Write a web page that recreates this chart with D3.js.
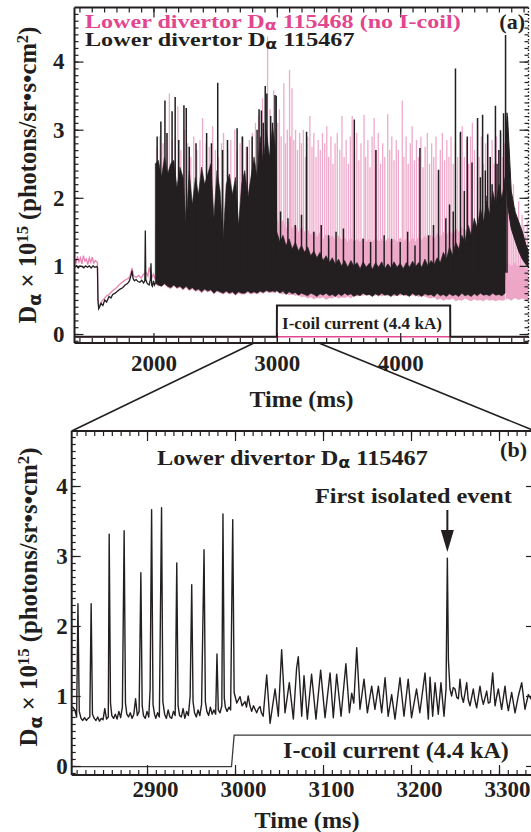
<!DOCTYPE html>
<html><head><meta charset="utf-8">
<script src="https://cdn.jsdelivr.net/npm/d3@7"></script>
<style>body{margin:0;background:#fff}svg{display:block}</style>
</head><body>
<svg id="chart" width="531" height="832"></svg>
<script>
// ---------------- DATA ----------------
// Panel (a): axis settings and tick labels
const aXDomain = [1360, 5040];
const aYDomain = [-0.132, 4.794];
const aXTicks = [2000, 3000, 4000];
const aYTicks = [0, 1, 2, 3, 4];
// Panel (b)
const bXDomain = [2814.4, 3340.9];
const bYDomain = [-0.129, 4.786];
const bXTicks = [2900, 3000, 3100, 3200, 3300];
const bYTicks = [0, 1, 2, 3, 4];

// (a) black shot 115467, before the ELMy phase
const preT = [1360,1375,1390,1405,1420,1435,1450,1465,1480,1495,1510,1525,1540,1546,1550,1556,1565,1575,1590,1605,1620,1640,1655,1670,1690,1710,1730,1750,1770,1790,1805,1818,1826,1834,1845,1860,1875,1890,1905,1920,1930,1934,1938,1950,1965,1975,1980,1985,1992,2000,2008,2015];
const preV = [0.98,1.0,0.97,1.0,0.99,0.97,1.0,0.98,1.0,0.97,1.0,0.98,0.99,0.98,0.5,0.37,0.4,0.45,0.42,0.5,0.47,0.55,0.53,0.58,0.6,0.63,0.66,0.68,0.72,0.74,0.78,0.86,0.93,0.82,0.78,0.8,0.77,0.76,0.79,0.75,0.78,1.52,0.8,0.74,0.72,0.8,1.04,0.72,0.7,0.78,0.72,0.75];
// (a) pink shot 115468, before the ELMy phase
const pinkPreT = [1360,1372,1384,1396,1408,1420,1432,1444,1456,1468,1480,1492,1504,1516,1528,1540,1546,1550,1556,1565,1580,1600,1620,1640,1660,1680,1700,1720,1740,1760,1780,1800,1815,1826,1840,1860,1880,1900,1920,1940,1955,1965,1975,1985,2000,2015];
const pinkPreV = [1.1,1.04,1.14,1.06,1.12,1.03,1.15,1.07,1.1,1.02,1.12,1.05,1.13,1.04,1.08,1.06,1.05,0.55,0.4,0.43,0.48,0.52,0.56,0.58,0.62,0.65,0.68,0.72,0.75,0.78,0.8,0.82,0.88,0.97,0.85,0.83,0.86,0.82,0.88,0.9,0.85,0.98,0.9,0.82,0.88,0.8];

// (a) dense ELMy phase: envelopes (25 ms samples)
const denseT = [2015,2040,2065,2090,2115,2140,2165,2190,2215,2240,2265,2290,2315,2340,2365,2390,2415,2440,2465,2490,2515,2540,2565,2590,2615,2640,2665,2690,2715,2740,2765,2790,2815,2840,2865,2890,2915,2940,2965,2990,
  3000,3025,3050,3075,3100,3125,3150,3175,3200,3225,3250,3275,3300,3325,3350,3375,3400,3425,3450,3475,3500,3525,3550,3575,3600,3625,3650,3675,3700,3725,3750,3775,3800,3825,3850,3875,3900,3925,3950,3975,
  4000,4025,4050,4075,4100,4125,4150,4175,4200,4225,4250,4275,4300,4325,4350,4375,4400,4425,4450,4475,4500,4525,4550,4575,4600,4625,4650,4675,4700,4725,4750,4775,4800,4825,4850];
const blackHi = [2.5,2.55,2.3,2.6,2.35,2.5,2.55,2.15,2.45,2.3,1.6,2.4,1.9,2.3,2.05,2.45,2.2,2.35,2.5,1.7,2.4,2.1,1.4,2.2,2.35,2.05,2.3,1.6,2.2,2.4,2.0,2.3,2.6,2.3,2.9,2.5,3.0,2.6,3.05,2.7,
  1.5,1.35,1.45,1.3,1.4,1.25,1.35,1.22,1.3,1.2,1.28,1.15,1.22,1.12,1.2,1.08,1.15,1.05,1.12,1.02,1.1,1.0,1.08,0.98,1.08,1.0,1.05,0.96,1.06,0.98,1.04,0.95,1.05,0.98,1.06,0.96,1.03,0.97,1.06,0.98,
  1.04,0.96,1.05,0.98,1.07,0.99,1.05,0.98,1.1,1.0,1.08,1.02,1.12,1.05,1.2,1.1,1.28,1.15,1.35,1.25,1.45,1.35,1.6,1.45,1.7,1.55,1.85,1.65,1.95,1.75,2.1,1.9,2.2,2.0,2.3];
const blackLo = [0.75,0.72,0.7,0.74,0.7,0.68,0.72,0.68,0.7,0.66,0.7,0.65,0.68,0.64,0.66,0.62,0.66,0.63,0.65,0.6,0.64,0.62,0.6,0.63,0.6,0.62,0.58,0.62,0.6,0.6,0.63,0.6,0.62,0.6,0.63,0.61,0.64,0.62,0.63,0.62,
  0.64,0.6,0.63,0.58,0.62,0.59,0.61,0.57,0.6,0.58,0.56,0.6,0.58,0.55,0.59,0.57,0.6,0.56,0.58,0.55,0.59,0.56,0.6,0.57,0.59,0.55,0.58,0.56,0.6,0.57,0.58,0.55,0.59,0.56,0.6,0.57,0.58,0.55,0.59,0.56,
  0.6,0.57,0.58,0.55,0.6,0.56,0.58,0.55,0.59,0.57,0.58,0.55,0.6,0.56,0.58,0.55,0.59,0.56,0.58,0.55,0.6,0.56,0.58,0.55,0.59,0.56,0.6,0.57,0.58,0.56,0.6,0.57,0.58,0.56,0.6];
const pinkLo = [0.72,0.7,0.7,0.72,0.68,0.66,0.7,0.66,0.68,0.64,0.68,0.63,0.66,0.62,0.64,0.6,0.64,0.61,0.63,0.58,0.62,0.6,0.58,0.61,0.58,0.6,0.56,0.6,0.58,0.58,0.61,0.58,0.6,0.58,0.61,0.59,0.62,0.6,0.61,0.6,
  0.62,0.6,0.58,0.6,0.57,0.58,0.56,0.57,0.54,0.55,0.52,0.54,0.51,0.53,0.52,0.54,0.5,0.53,0.52,0.55,0.52,0.54,0.53,0.55,0.52,0.56,0.55,0.57,0.56,0.58,0.57,0.58,0.56,0.58,0.55,0.57,0.56,0.58,0.55,0.57,
  0.56,0.58,0.55,0.57,0.56,0.58,0.54,0.56,0.55,0.53,0.52,0.54,0.5,0.52,0.49,0.51,0.5,0.52,0.48,0.5,0.49,0.52,0.5,0.48,0.51,0.49,0.5,0.48,0.51,0.49,0.5,0.48,0.5,0.49,0.5];
const pinkBand = [1.6,1.6,1.6,1.6,1.6,1.6,1.6,1.6,1.6,1.6,1.6,1.6,1.6,1.6,1.6,1.6,1.6,1.6,1.6,1.6,1.6,1.6,1.6,1.6,1.6,1.6,1.6,1.6,1.6,1.6,1.6,1.6,1.6,1.6,1.6,1.6,1.6,1.6,1.6,1.6,
  1.7,1.6,1.68,1.55,1.65,1.55,1.6,1.5,1.58,1.5,1.55,1.45,1.52,1.42,1.5,1.4,1.48,1.4,1.45,1.38,1.45,1.38,1.42,1.35,1.42,1.36,1.4,1.35,1.42,1.36,1.4,1.35,1.42,1.36,1.4,1.34,1.42,1.36,1.4,1.35,
  1.42,1.36,1.4,1.35,1.42,1.36,1.44,1.38,1.45,1.4,1.46,1.4,1.48,1.42,1.5,1.45,1.52,1.46,1.55,1.5,1.58,1.52,1.6,1.55,1.65,1.58,1.7,1.62,1.75,1.68,1.8,1.72,1.85,1.78,1.9];

// (a) tail after the last big event
const tailT = [4855,4870,4900,4930,4960,4990,5020,5045];
const blackTailLo = [2.4,1.9,1.55,1.38,1.22,1.1,1.02,0.98];
const blackTailHi = [3.0,3.2,2.1,1.8,1.65,1.5,1.3,1.2];
const pinkTailLo = [0.5,0.52,0.49,0.53,0.5,0.52,0.5,0.5];
const pinkTailHi = [1.1,1.05,1.0,1.05,0.98,1.02,0.95,1.0];

// (a) individual spikes
const blackSpikeT = [2030,2060,2093,2110,2151,2176,2205,2247,2266,2290,2345,2431,2470,2521,2560,2600,2678,2720,2760,2800,2840,2856,2875,2890,2906,2919,2950,2965,2985,2995,
  3030,3090,3150,3200,3241,3300,3360,3420,3480,3540,3628,3700,3760,3803,3870,3930,4000,4060,4120,4160,4230,4270,4311,4370,4400,4430,4448,4489,4520,4544,4582,4627,4650,4668,4690,4704,4709,4730,4745,4772,4785,4800,4813,4838,4854,4866];
const blackSpikeV = [2.9,3.12,3.43,2.95,3.27,3.48,2.85,3.36,3.32,2.75,2.8,2.95,2.8,3.69,2.7,2.85,3.02,2.9,2.75,2.9,3.0,3.3,3.28,3.1,3.64,3.53,3.2,3.1,3.51,3.5,
  1.8,1.7,1.6,1.75,2.97,1.5,1.6,1.45,1.5,1.55,3.15,1.4,1.35,2.7,1.45,1.4,1.35,1.5,1.3,2.73,1.45,1.6,2.41,1.7,1.9,1.8,3.9,2.97,2.1,2.9,2.52,3.17,2.3,3.22,2.4,2.03,2.93,2.6,2.2,3.35,2.5,2.7,2.99,3.24,4.39,3.25];
const pinkSpikeT = [2027,2052,2078,2102,2129,2152,2178,2198,2222,2252,2277,2302,2327,2352,2377,2398,2427,2452,2480,2502,2527,2552,2568,2602,2627,2659,2677,2702,2727,2752,2777,2802,2827,2852,2884,2925,2945,2974,
  3008,3021,3035,3057,3070,3085,3103,3112,3123,3138,3152,3168,3185,3200,3215,3232,3250,3268,3285,3300,3318,3335,3352,3370,3388,3405,3420,3438,3455,3472,3490,3510,3528,3545,3562,3580,3596,3611,3630,3648,3665,3682,3707,3720,3738,3755,3772,3789,3805,3822,3840,3858,3875,3899,3915,3932,3950,3968,3985,4017,4030,4048,4065,4082,4097,4115,4132,4150,4168,4185,4202,4220,4238,4255,4272,4290,4308,4325,4342,4360,4378,4395,4412,4430,4448,4466,4485,4503,4520,4538,4555,4570,4585,4602,4627,4640,4658,4675,4692,4710,4728,4745,4762,4780,4798,4815,4832,4848,
  4862,4876,4890,4905,4918,4932,4946,4960,4974,4988,5002,5016,5030];
const pinkSpikeV = [2.75,2.9,2.8,2.95,3.53,2.85,2.9,3.34,2.7,3.0,2.8,2.6,2.9,2.7,2.85,3.17,2.8,2.75,3.05,2.7,2.6,2.8,2.95,2.7,2.85,3.0,2.7,2.8,2.9,2.75,2.85,2.95,3.1,3.2,3.46,4.37,3.3,3.58,
  3.1,3.3,2.9,3.68,2.8,3.0,3.88,2.9,3.61,2.85,3.0,2.7,2.95,2.8,3.0,2.6,2.9,3.2,2.75,2.95,2.6,2.85,2.7,2.95,2.8,3.05,2.6,2.9,2.5,2.8,2.95,2.7,3.2,2.6,2.85,2.5,2.9,3.2,2.7,2.95,2.55,2.8,3.22,2.6,2.85,2.45,2.9,3.17,2.7,2.95,2.5,2.8,2.6,3.23,2.7,2.9,2.55,2.85,2.7,3.43,2.6,2.9,2.5,2.8,3.05,2.55,2.85,2.6,2.9,2.45,2.75,2.95,2.5,2.8,2.6,2.9,2.4,2.7,2.95,2.55,2.85,2.6,2.9,2.5,2.8,2.6,2.95,3.05,2.6,2.85,2.5,2.9,3.1,2.7,3.15,2.6,2.9,2.5,2.8,2.95,2.6,2.85,2.5,2.9,2.7,2.95,2.6,2.8,
  2.3,1.9,2.1,1.75,2.2,1.85,1.6,1.95,1.55,1.75,1.6,1.45,1.65];

// (a) I-coil current traces
const aIcoilT = [1360, 3000, 3001, 4405, 4406, 5045];
const aIcoilV = [-0.04, -0.04, 0.42, 0.42, -0.04, -0.04];
const aPinkIcoilT = [1360, 5045];
const aPinkIcoilV = [-0.04, -0.04];

// (b) black shot 115467 zoom
const bT = [2815,2818,2820,2821.5,2823,2825,2827,2829,2831,2833,2835,2836.5,2838,2840,2842,2844,2846,2848,2850,2852,2854,2856,2857,2858.5,2860,2862,2864,2866,2868,2870,2872,2874,2875.5,2877,2879,2881,2883,2885,2887,2889,2891,2893,2894.5,2896,2898,2900,2902,2903.5,2905.2,2906.8,2908.5,2910,2912,2914,2916.5,2918,2920,2922,2924,2926,2928,2930,2932,2933.8,2935.3,2937,2939,2941,2943,2945,2947,2949,2950.8,2952.3,2954,2956,2958,2960,2962,2964.8,2966.3,2968,2970,2972,2974,2976,2978,2979.5,2981,2983,2985,2986.3,2987.8,2989,2991,2993,2995,2997.4,2999,
  3002,3005.7,3008,3011.4,3013,3015,3017,3018.9,3021,3024.6,3026.5,3028.4,3030,3032,3036,3039.8,3045.5,3049.2,3053,3056.8,3061.7,3066.3,3070,3071.9,3075.8,3078.4,3082.2,3087,3092,3097.3,3102.3,3108,3111.7,3115.5,3120.5,3126,3130,3132.6,3135,3138.3,3142,3146.6,3150.4,3155.3,3159,3162.9,3166.7,3170.5,3174,3178,3181.8,3187.5,3192,3196.8,3200.6,3206.3,3210,3215.9,3219.7,3221.6,3224.6,3227.3,3231,3234,3237.5,3239.8,3241.3,3242.5,3244.3,3246.2,3248,3250,3252,3253.8,3255.7,3257.5,3259.5,3261.5,3263.3,3265,3267,3270.8,3272.5,3274.6,3278.4,3280.3,3282.2,3286,3287.8,3289.8,3292.8,3295.5,3297.5,3299.2,3303,3306.8,3308.5,3310.6,3314.4,3318.2,3322,3325.8,3329.5,3333.3,3336.4,3338.5,3341];
const bV = [0.85,0.8,0.7,2.32,0.78,0.68,0.65,0.69,0.65,0.68,0.7,2.32,0.74,0.68,0.65,0.7,0.64,0.68,0.66,0.82,0.67,0.7,3.31,0.9,0.72,0.68,0.74,0.67,0.78,0.69,0.84,3.36,0.9,0.74,0.7,0.76,0.68,0.74,0.96,0.72,0.78,2.76,0.86,0.72,0.68,0.78,0.7,1.1,3.66,0.88,0.74,0.68,0.76,0.7,3.69,0.92,0.74,0.68,0.8,0.7,0.68,0.78,0.72,2.9,0.86,0.72,0.7,0.82,0.68,0.78,0.72,1.0,2.59,0.92,0.76,0.7,0.8,0.72,0.88,3.09,0.92,0.78,0.72,0.84,0.74,0.8,0.74,1.6,0.8,0.76,0.86,3.6,0.97,0.84,0.78,0.84,0.8,3.52,1.05,
  0.9,0.99,0.86,0.92,0.84,1.0,0.86,0.78,0.86,0.76,0.82,0.85,0.76,0.71,1.3,0.61,1.1,0.71,1.66,0.76,1.19,0.67,1.4,1.56,0.71,1.29,0.67,1.31,0.67,1.37,0.69,1.33,0.69,1.31,0.71,1.46,0.76,1.04,0.9,1.69,0.81,1.24,0.76,1.14,0.81,1.14,0.76,1.26,0.71,1.02,0.67,1.26,0.71,1.24,0.69,1.1,0.76,1.33,0.67,1.27,0.71,1.19,0.74,1.19,0.71,1.1,2.97,1.51,1.1,1.0,1.12,1.1,0.98,0.96,1.24,1.0,0.91,1.05,1.19,0.95,0.86,1.1,0.95,0.83,1.14,0.98,0.88,1.07,0.9,0.91,1.33,0.86,1.0,1.1,0.81,1.14,0.95,0.79,1.05,0.76,1.0,1.19,0.81,1.02,0.96,1.05,0.9];
// (b) I-coil current
const bIcoilT = [2814, 2996, 2999, 3342];
const bIcoilV = [-0.01, -0.01, 0.44, 0.44];

// ---------------- DRAWING ----------------
const SERIF = '"Liberation Serif","Times New Roman",Times,serif';
const BLACK = '#231f20', PINK = '#e2468f', PINK_LINE = '#eeaacb', PINK_BAND = '#eea6c6', PINK_PRE = '#e884b2';
const svg = d3.select('#chart');
const defs = svg.append('defs');

const A = {l: 74.5, r: 528.5, t: 7.5, b: 343};
const B = {l: 71.7, r: 535, t: 431, b: 775};

const xa = d3.scaleLinear().domain(aXDomain).range([A.l, A.r]);
const ya = d3.scaleLinear().domain(aYDomain).range([A.b, A.t]);
const xb = d3.scaleLinear().domain(bXDomain).range([B.l, B.r]);
const yb = d3.scaleLinear().domain(bYDomain).range([B.b, B.t]);

function clip(id, P) {
  defs.append('clipPath').attr('id', id).append('rect')
    .attr('x', P.l).attr('y', P.t).attr('width', P.r - P.l).attr('height', P.b - P.t);
}
clip('clipA', A); clip('clipB', B);

// ---------- panel (a) data ----------
const pa = svg.append('g').attr('clip-path', 'url(#clipA)');
const idx = arr => d3.range(arr.length);
const lineA = (T, V) => d3.line().x(i => xa(T[i])).y(i => ya(V[i]));
const areaA = (T, L, H) => d3.area().x(i => xa(T[i])).y0(i => ya(L[i])).y1(i => ya(H[i]));

// pink (shot 115468)
pa.append('path').datum(idx(pinkPreT)).attr('d', lineA(pinkPreT, pinkPreV))
  .attr('fill', 'none').attr('stroke', PINK_PRE).attr('stroke-width', 1.3);
pa.append('path').datum(idx(denseT)).attr('d', areaA(denseT, pinkLo, pinkBand))
  .attr('fill', PINK_BAND);
pa.append('path').datum(idx(tailT)).attr('d', areaA(tailT, pinkTailLo, pinkTailHi))
  .attr('fill', PINK_BAND);
pa.selectAll('line.pk').data(idx(pinkSpikeT)).join('line').attr('class', 'pk')
  .attr('x1', i => xa(pinkSpikeT[i])).attr('x2', i => xa(pinkSpikeT[i]))
  .attr('y1', ya(0.8)).attr('y2', i => ya(pinkSpikeV[i]))
  .attr('stroke', PINK_LINE).attr('stroke-width', 1.3);
pa.append('path').datum(idx(aPinkIcoilT)).attr('d', lineA(aPinkIcoilT, aPinkIcoilV))
  .attr('fill', 'none').attr('stroke', PINK).attr('stroke-width', 1.6);

// black (shot 115467)
pa.append('path').datum(idx(preT)).attr('d', lineA(preT, preV))
  .attr('fill', 'none').attr('stroke', BLACK).attr('stroke-width', 1.3);
pa.append('path').datum(idx(denseT)).attr('d', areaA(denseT, blackLo, blackHi))
  .attr('fill', BLACK).attr('stroke', BLACK).attr('stroke-width', 0.6);
pa.append('path').datum(idx(tailT)).attr('d', areaA(tailT, blackTailLo, blackTailHi))
  .attr('fill', BLACK).attr('stroke', BLACK).attr('stroke-width', 1);
pa.selectAll('line.bk').data(idx(blackSpikeT)).join('line').attr('class', 'bk')
  .attr('x1', i => xa(blackSpikeT[i])).attr('x2', i => xa(blackSpikeT[i]))
  .attr('y1', ya(0.9)).attr('y2', i => ya(blackSpikeV[i]))
  .attr('stroke', BLACK).attr('stroke-width', 1.5);
pa.append('path').datum(idx(aIcoilT)).attr('d', lineA(aIcoilT, aIcoilV))
  .attr('fill', 'none').attr('stroke', BLACK).attr('stroke-width', 2);

// ---------- panel (b) data ----------
const pb = svg.append('g').attr('clip-path', 'url(#clipB)');
pb.append('path').datum(idx(bIcoilT))
  .attr('d', d3.line().x(i => xb(bIcoilT[i])).y(i => yb(bIcoilV[i])))
  .attr('fill', 'none').attr('stroke', '#3a3a3a').attr('stroke-width', 1.3);
pb.append('path').datum(idx(bT))
  .attr('d', d3.line().x(i => xb(bT[i])).y(i => yb(bV[i])))
  .attr('fill', 'none').attr('stroke', BLACK).attr('stroke-width', 1.4).attr('stroke-linejoin', 'round');

// ---------- axes ----------
function axes(P, x, y, xMinor, xMajor, yMinor, yMajor, opt) {
  const g = svg.append('g');
  const mk = (axis, tx, ty) => g.append('g').attr('transform', `translate(${tx},${ty})`)
    .call(axis).call(s => s.select('.domain').remove());
  mk(d3.axisLeft(y).tickValues(yMinor).tickSize(-4).tickFormat(''), P.l, 0);
  mk(d3.axisLeft(y).tickValues(yMajor).tickSize(-9).tickPadding(opt.yPad).tickFormat(d3.format('d')), P.l, 0);
  mk(d3.axisRight(y).tickValues(yMinor).tickSize(-4).tickFormat(''), P.r, 0);
  mk(d3.axisRight(y).tickValues(yMajor).tickSize(-9).tickFormat(''), P.r, 0);
  mk(d3.axisBottom(x).tickValues(xMinor).tickSize(-5).tickFormat(''), 0, P.b);
  const bx = mk(d3.axisBottom(x).tickValues(xMajor).tickSize(-10).tickPadding(opt.xPad).tickFormat(d3.format('d')), 0, P.b);
  bx.selectAll('text').attr('dx', opt.xDx);
  mk(d3.axisTop(x).tickValues(xMinor).tickSize(-5).tickFormat(''), 0, P.t);
  mk(d3.axisTop(x).tickValues(xMajor).tickSize(-10).tickFormat(''), 0, P.t);
  g.selectAll('line').attr('stroke', BLACK).attr('stroke-width', 1.2);
  g.selectAll('text').attr('fill', BLACK).attr('font-size', 23)
    .attr('font-family', SERIF).attr('font-weight', 'bold');
  // frame
  const f = g.append('g').attr('stroke', BLACK).attr('fill', 'none');
  f.append('line').attr('x1', P.l).attr('x2', P.r).attr('y1', P.t).attr('y2', P.t).attr('stroke-width', 2);
  f.append('line').attr('x1', P.l).attr('x2', P.r).attr('y1', P.b).attr('y2', P.b).attr('stroke-width', 2);
  f.append('line').attr('x1', P.l).attr('x2', P.l).attr('y1', P.t).attr('y2', P.b).attr('stroke-width', 2);
  f.append('line').attr('x1', P.r).attr('x2', P.r).attr('y1', P.t).attr('y2', P.b)
    .attr('stroke-width', 1.4).attr('stroke-dasharray', opt.rightDash || null);
  return g;
}
const yMinorTicks = d3.range(-1, 48).map(k => k / 10);
axes(A, xa, ya, d3.range(1400, 5041, 100), aXTicks, yMinorTicks, aYTicks,
  {yPad: 10, xPad: 12, xDx: 0, rightDash: '1.5,2'});
axes(B, xb, yb, d3.range(2820, 3341, 10), bXTicks, yMinorTicks, bYTicks,
  {yPad: 4, xPad: 6, xDx: 8});

// ---------- zoom connector lines ----------
svg.append('g').attr('stroke', BLACK).attr('stroke-width', 1.6)
  .selectAll('line').data([0, 1]).join('line')
  .attr('x1', i => xa(bXDomain[i])).attr('y1', A.b)
  .attr('x2', i => i ? B.r : B.l).attr('y2', B.t);

// ---------- texts ----------
// text drawn at a given font size, then stretched horizontally to the reference width
function label(x, y, size, fill, width, build, anchor) {
  const g = svg.append('g').attr('transform', `translate(${x},${y})`);
  const t = g.append('text').attr('font-size', size)
    .attr('font-family', SERIF).attr('font-weight', 'bold').attr('fill', fill)
    .attr('text-anchor', anchor || 'start');
  build(t);
  if (width) {
    const w = t.node().getBBox().width;
    t.attr('transform', `scale(${width / w},1)`);
  }
  return t;
}
const plain = s => t => t.text(s);
const withAlpha = (before, after) => t => {
  t.append('tspan').text(before);
  t.append('tspan').text('α').attr('font-family', '"DejaVu Sans",sans-serif')
    .attr('font-size', '0.72em').attr('dy', '0.2em');
  t.append('tspan').text(after).attr('dy', '-0.14em');
};
// panel (a)
label(85, 27.5, 19.5, PINK, 376, withAlpha('Lower divertor D', ' 115468 (no I-coil)'));
label(85, 46, 19.5, BLACK, 270, withAlpha('Lower divertor D', ' 115467'));
label(525, 29, 22, BLACK, null, plain('(a)'), 'end');
label(282, 329, 16.5, BLACK, 160, plain('I-coil current (4.4 kA)'));
label(301.5, 406.5, 24, BLACK, 104, plain('Time (ms)'), 'middle');
// panel (b)
label(157, 465, 21, BLACK, 271, withAlpha('Lower divertor D', ' 115467'));
label(527, 456.5, 22, BLACK, null, plain('(b)'), 'end');
label(315, 503, 21, BLACK, 197, plain('First isolated event'));
label(283, 758, 22.5, BLACK, 226, plain('I-coil current (4.4 kA)'));
label(307, 828, 24, BLACK, 105, plain('Time (ms)'), 'middle');

// arrow
const ax = xb(3241.3);
svg.append('line').attr('x1', ax).attr('x2', ax).attr('y1', 510).attr('y2', 536)
  .attr('stroke', BLACK).attr('stroke-width', 2);
svg.append('path').attr('d', `M${ax - 6.5},530 L${ax + 6.5},530 L${ax},552 Z`).attr('fill', BLACK);

// y-axis titles
function yTitle(cx, cy, len) {
  const t = svg.append('text').attr('transform', `translate(${cx},${cy}) rotate(-90)`)
    .attr('text-anchor', 'middle').attr('font-family', SERIF).attr('font-weight', 'bold')
    .attr('font-size', 22).attr('fill', BLACK);
  t.append('tspan').text('D');
  t.append('tspan').text('α').attr('font-family', '"DejaVu Sans",sans-serif')
    .attr('font-size', '0.72em').attr('dy', '0.28em');
  t.append('tspan').text(' × 10').attr('dy', '-0.2em');
  t.append('tspan').text('15').attr('font-size', '0.68em').attr('dy', '-0.5em');
  t.append('tspan').text(' (photons/sr•s•cm').attr('dy', '0.34em');
  t.append('tspan').text('2').attr('font-size', '0.68em').attr('dy', '-0.5em');
  t.append('tspan').text(')').attr('dy', '0.34em');
  const h = t.node().getBBox().width;
  t.attr('font-size', 22 * len / h);
  return t;
}
yTitle(36, 175, 297);
yTitle(37, 597, 299);
</script>
</body></html>
